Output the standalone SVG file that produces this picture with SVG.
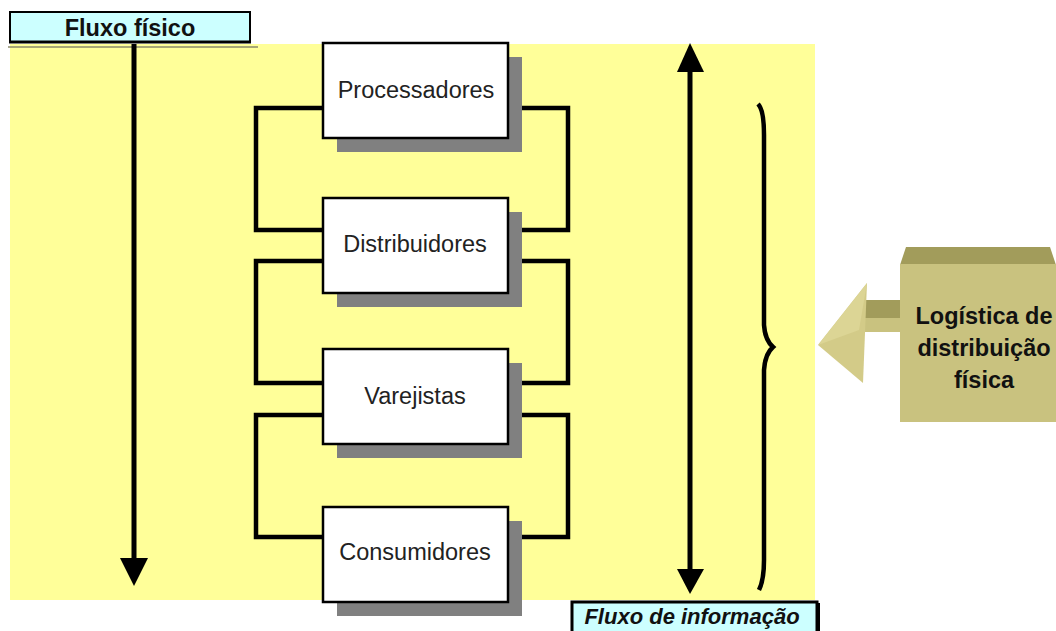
<svg xmlns="http://www.w3.org/2000/svg" width="1056" height="631" viewBox="0 0 1056 631">
<defs>
<style>
.node rect.box{fill:#fff;stroke:#000;stroke-width:2.5}
.node rect.sh{fill:#808080}
.lbl{font-family:"Liberation Sans",Arial,sans-serif;font-size:23.5px;fill:#222;text-anchor:middle}
.conn path{fill:none;stroke:#000;stroke-width:4.5}
.bold{font-family:"Liberation Sans",Arial,sans-serif;font-weight:bold;fill:#111;text-anchor:middle}
</style>
</defs>
<rect x="0" y="0" width="1056" height="631" fill="#fff"/>
<rect x="10" y="44" width="805" height="556" fill="#ffff99"/>
<g id="fluxo-fisico">
<line x1="8" y1="47" x2="258" y2="47" stroke="#8a8a6a" stroke-width="1.5"/>
<rect x="10" y="12" width="240" height="30" fill="#ccffff" stroke="#000" stroke-width="2"/>
<line x1="9" y1="42" x2="251" y2="42" stroke="#000" stroke-width="3"/>
<text class="bold" x="130" y="36" font-size="23.5">Fluxo físico</text>
</g>
<g class="conn" id="connectors">
<path d="M323,108 H256 V230 H323"/>
<path d="M323,261 H256 V383 H323"/>
<path d="M323,415 H256 V537 H323"/>
<path d="M508,108 H568 V230 H508"/>
<path d="M508,261 H568 V383 H508"/>
<path d="M508,415 H568 V537 H508"/>
<line x1="134" y1="44" x2="134" y2="560" stroke="#000" stroke-width="5"/>
<polygon points="120,558 148,558 134,586" fill="#000"/>
<line x1="690" y1="68" x2="690" y2="574" stroke="#000" stroke-width="5"/>
<polygon points="677,72 704,72 690,43" fill="#000"/>
<polygon points="677,569 704,569 690,594" fill="#000"/>
<path d="M758,104 Q764,110 764,135 V325 Q765,340 773,347 Q765,354 764,370 V560 Q764,580 759,590" stroke-width="4"/>
</g>
<g class="node" id="processadores">
<rect class="sh" x="337" y="57" width="185" height="95"/>
<rect class="box" x="323" y="43" width="185" height="95"/>
<text class="lbl" x="416" y="98">Processadores</text>
</g>
<g class="node" id="distribuidores">
<rect class="sh" x="337" y="212" width="185" height="95"/>
<rect class="box" x="323" y="198" width="185" height="95"/>
<text class="lbl" x="415" y="252">Distribuidores</text>
</g>
<g class="node" id="varejistas">
<rect class="sh" x="337" y="363" width="185" height="95"/>
<rect class="box" x="323" y="349" width="185" height="95"/>
<text class="lbl" x="415" y="404">Varejistas</text>
</g>
<g class="node" id="consumidores">
<rect class="sh" x="337" y="521" width="185" height="95"/>
<rect class="box" x="323" y="507" width="185" height="95"/>
<text class="lbl" x="415" y="560">Consumidores</text>
</g>
<g id="fluxo-informacao">
<rect x="572" y="602" width="245" height="35" fill="#ccffff" stroke="#000" stroke-width="3"/>
<line x1="818" y1="603" x2="818" y2="631" stroke="#000" stroke-width="4"/>
<text class="bold" x="692" y="624" font-size="22" font-style="italic">Fluxo de informação</text>
</g>
<g id="logistica">
<polygon points="860,300 900,300 900,332 860,332" fill="#c9c27f"/>
<polygon points="860,300 900,300 900,318 860,318" fill="#a29c5b"/>
<polygon points="818,345 867,283 863,383" fill="#d3cb88"/>
<polygon points="818,345 867,283 859,330" fill="#dcd595"/>
<polygon points="906,247 1050,247 1056,265 900,265" fill="#a29c5b"/>
<rect x="900" y="264" width="156" height="158" fill="#c9c27f"/>
<text class="bold" x="984" y="324" font-size="23.5">Logística de</text>
<text class="bold" x="984" y="356" font-size="23.5">distribuição</text>
<text class="bold" x="984" y="388" font-size="23.5">física</text>
</g>
</svg>
